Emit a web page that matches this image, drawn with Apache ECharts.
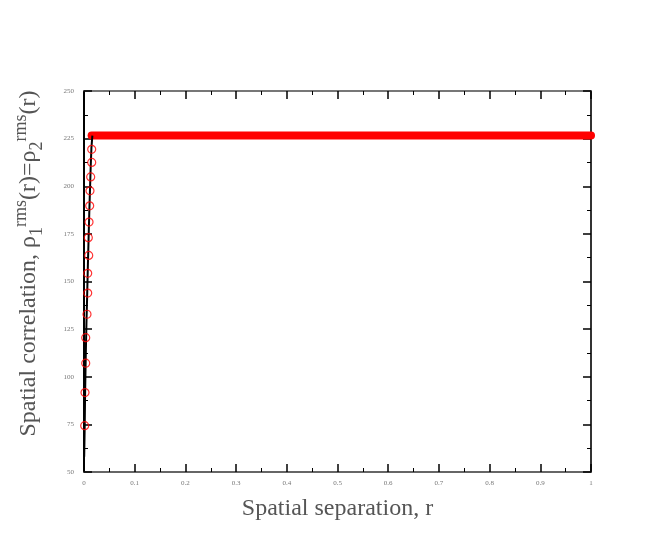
<!DOCTYPE html>
<html><head><meta charset="utf-8">
<script src="https://cdn.jsdelivr.net/npm/echarts@6/dist/echarts.min.js"></script>
<style>html,body{margin:0;padding:0;background:#fff}#c{width:654px;height:545px}</style>
</head><body><div id="c"></div>
<script>
const circleX = [0.0014,0.0020,0.0034,0.0034,0.0059,0.0073,0.0073,0.0093,0.0085,0.0099,0.0112,0.0118,0.0132,0.0152,0.0152];
const circleY = [74.3,91.7,107.1,120.5,132.8,143.9,154.3,163.7,173.0,181.2,189.7,197.6,204.9,212.5,219.4];
const curveX = [0.0004,0.0014,0.0022,0.0034,0.0048,0.0062,0.0076,0.0090,0.0104,0.0118,0.0132,0.0146,0.0165];
const curveY = [58,74.3,91.7,110,128,142,158,172,186,198,210,220,226.6];
const plateauX = [0.0150, 1.0];
const plateauY = [226.6, 226.6];
const xTicks = [0,0.1,0.2,0.3,0.4,0.5,0.6,0.7,0.8,0.9,1];
const yTicks = [50,75,100,125,150,175,200,225,250];

const zip = (a,b)=>a.map((v,i)=>[v,b[i]]);
const serif = '"Liberation Serif","DejaVu Serif",serif';
const tickLbl = {fontSize:7, color:'#777', fontFamily:serif};
const axTick = {inside:true, length:8, lineStyle:{color:'#000', width:1.5}};
const minor = {show:true, splitNumber:2, length:4, lineStyle:{color:'#000', width:1}};
const titleColor = '#555';

const chart = echarts.init(document.getElementById('c'));
chart.setOption({
  animation:false,
  backgroundColor:'#fff',
  grid:{left:84, right:63, top:91, bottom:73},
  xAxis:[
    {type:'value', min:xTicks[0], max:xTicks[xTicks.length-1], interval:0.1, position:'bottom',
     axisLine:{onZero:false, lineStyle:{color:'#666', width:2}}, axisTick:axTick, minorTick:minor,
     splitLine:{show:false}, axisLabel:Object.assign({margin:8}, tickLbl),
     name:'Spatial separation, r', nameLocation:'middle', nameGap:25,
     nameTextStyle:{fontSize:24, color:titleColor, fontFamily:serif}},
    {type:'value', min:0, max:1, interval:0.1, position:'top',
     axisLine:{onZero:false, lineStyle:{color:'#777', width:2}}, axisTick:axTick, minorTick:minor,
     splitLine:{show:false}, axisLabel:{show:false}}
  ],
  yAxis:[
    {type:'value', min:yTicks[0], max:yTicks[yTicks.length-1], interval:25, position:'left',
     axisLine:{onZero:false, lineStyle:{color:'#000', width:2}}, axisTick:axTick, minorTick:minor,
     splitLine:{show:false}, axisLabel:Object.assign({margin:10}, tickLbl),
     name:'{a|Spatial correlation, ρ}{s|1}{p|rms}{a|(r)=ρ}{s|2}{p|rms}{a|(r)}',
     nameLocation:'middle', nameGap:38,
     nameTextStyle:{fontSize:24, color:titleColor, fontFamily:serif, padding:[0,0,0,36],
       rich:{a:{fontSize:24, color:titleColor, fontFamily:serif},
             s:{fontSize:18, color:titleColor, fontFamily:serif, verticalAlign:'bottom', padding:[12,0,0,0]},
             p:{fontSize:18, color:titleColor, fontFamily:serif, verticalAlign:'top', padding:[0,0,16,0]}}}},
    {type:'value', min:50, max:250, interval:25, position:'right',
     axisLine:{onZero:false, lineStyle:{color:'#333', width:2}}, axisTick:axTick, minorTick:minor,
     splitLine:{show:false}, axisLabel:{show:false}}
  ],
  series:[
    {type:'line', data:zip(plateauX, plateauY), symbol:'none',
     lineStyle:{color:'#ff0000', width:8, cap:'round'}, z:3},
    {type:'line', data:zip(curveX, curveY), symbol:'none', smooth:false,
     lineStyle:{color:'#000', width:2}, z:4},
    {type:'scatter', data:zip(circleX, circleY), symbol:'circle', symbolSize:8,
     itemStyle:{color:'rgba(0,0,0,0)', borderColor:'#ff0000', borderWidth:1.2}, z:5}
  ]
});
</script></body></html>
